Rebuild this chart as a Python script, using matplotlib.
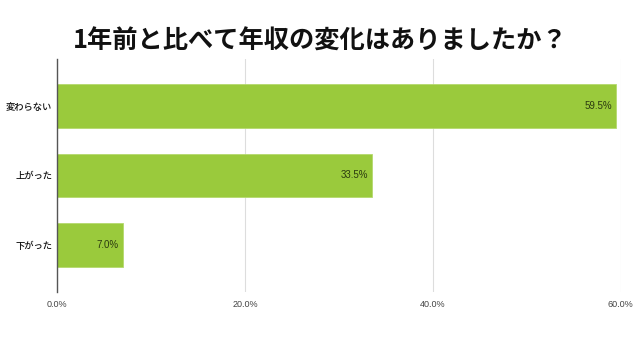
import matplotlib
matplotlib.use("Agg")
import matplotlib.pyplot as plt
import matplotlib.ticker as ticker

plt.rcParams["font.family"] = ["Noto Sans CJK JP", "DejaVu Sans"]

title = "1年前と比べて年収の変化はありましたか？"
categories = ["変わらない", "上がった", "下がった"]
values = [59.5, 33.5, 7.0]
xticks = [0, 20, 40, 60]

fig = plt.figure(figsize=(6.4, 3.6), dpi=100)
ax = fig.add_axes([0.089, 0.189, 0.881, 0.647])

pos = list(range(len(categories)))
bars = ax.barh(pos, values, height=0.633, color="#9aca3c", edgecolor="#b5d96e",
               linewidth=0.6, zorder=2)
for b, v in zip(bars, values):
    ax.text(v - 0.4, b.get_y() + b.get_height() / 2, f"{v:.1f}%",
            ha="right", va="center", fontsize=7, color="#2b3a10",
            family=["Liberation Sans", "DejaVu Sans"])

ax.set_ylim(2.676, -0.676)
ax.set_xlim(0, 60)
ax.set_yticks(pos)
ax.set_yticklabels(categories, fontsize=6.7, color="#111111", fontweight="medium")
ax.set_xticks(xticks)
ax.xaxis.set_major_formatter(ticker.FuncFormatter(lambda x, _: f"{x:.1f}%"))
for lab in ax.get_xticklabels():
    lab.set_fontsize(6.5)
    lab.set_color("#444444")
    lab.set_family(["Liberation Sans", "DejaVu Sans"])
ax.tick_params(axis="y", length=0, pad=3.5)
ax.tick_params(axis="x", length=0, pad=6)
ax.grid(axis="x", color="#dddddd", linewidth=0.8, zorder=0)
for s in ["top", "right", "bottom"]:
    ax.spines[s].set_visible(False)
ax.spines["left"].set_color("#555555")
ax.spines["left"].set_linewidth(1.0)
ax.spines["left"].set_zorder(3)

fig.text(0.5, 0.885, title, ha="center", va="center", fontsize=18.2,
         fontweight="bold", color="#111111")

fig.savefig("out.png", dpi=100)
